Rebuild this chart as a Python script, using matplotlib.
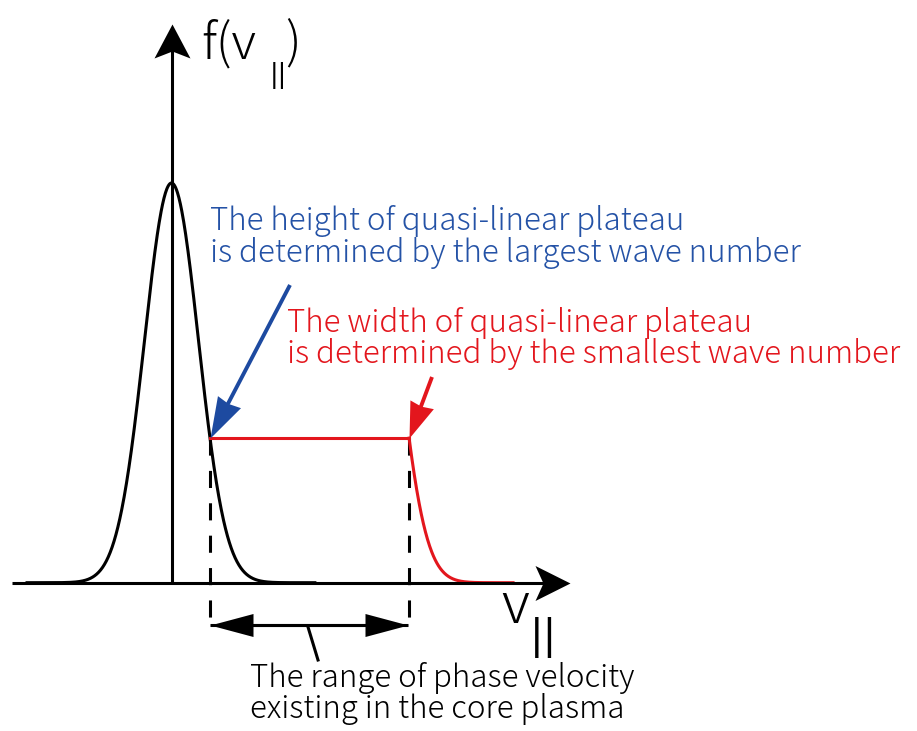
import numpy as np
import matplotlib
matplotlib.use("Agg")
import matplotlib.pyplot as plt
from matplotlib.path import Path
from matplotlib.markers import MarkerStyle
from matplotlib.transforms import Affine2D

plt.rcParams['font.family'] = ['Noto Sans CJK JP', 'DejaVu Sans']

# Maxwellian core and quasi-linear plateau (velocity in thermal units, f normalised to peak)
v_core = np.linspace(-5.35, 5.31, 600)
f_core = np.exp(-v_core**2 / 2)

plateau_edges = [1.426, 8.80]          # resonant phase-velocity range
plateau_height = float(np.exp(-plateau_edges[0]**2 / 2))
v_plateau = np.array(plateau_edges)
f_plateau = np.array([plateau_height, plateau_height])

shift = plateau_edges[1] - plateau_edges[0]
v_tail = np.linspace(plateau_edges[1], 12.65, 300)
f_tail = np.exp(-(v_tail - shift)**2 / 2)

blue_lines = ["The height of quasi-linear plateau",
              "is determined by the largest wave number"]
red_lines = ["The width of quasi-linear plateau",
             "is determined by the smallest wave number"]
black_lines = ["The range of phase velocity",
               "existing in the core plasma"]

BLUE = '#1d4aa0'
RED = '#e3161d'
BLUE_TXT = '#2452a6'

W, H = 917, 731
fig = plt.figure(figsize=(W / 100, H / 100), dpi=100)
ax = fig.add_axes([0, 0, 1, 1])
X0, SX, Y0, SY = 171.5, 27.0, 582.7, 399.7
ax.set_xlim(-X0 / SX, (W - X0) / SX)
ax.set_ylim((Y0 - H) / SY, Y0 / SY)
ax.axis('off')


def at(xp, yp):
    """Layout position given in pixels from the top-left corner -> data coords."""
    return ((xp - X0) / SX, (Y0 - yp) / SY)


def head(tip, frm, length, half, notch, color, z=6):
    """Filled arrow head (sizes in pixels) at data point `tip`, pointing away from `frm`."""
    tx, ty = ax.transData.transform(tip)
    fx, fy = ax.transData.transform(frm)
    ang = np.degrees(np.arctan2(ty - fy, tx - fx))
    verts = [(0, 0), (-length, half), (-length + notch, 0), (-length, -half), (0, 0)]
    codes = [Path.MOVETO, Path.LINETO, Path.LINETO, Path.LINETO, Path.CLOSEPOLY]
    ext = max(length, half)
    m = MarkerStyle(Path(verts, codes), transform=Affine2D().rotate_deg(ang))
    ax.plot([tip[0]], [tip[1]], marker=m, markersize=2 * ext * 0.72,
            color=color, markeredgewidth=0, linestyle='none', zorder=z)


def shaft(p0, p1, back, color, lw, z=5):
    """Straight line from p0 towards p1, stopping `back` pixels short of p1."""
    a = ax.transData.transform(p0)
    b = ax.transData.transform(p1)
    d = b - a
    b2 = b - d / np.hypot(*d) * back
    q = ax.transData.inverted().transform(np.vstack([a, b2]))
    ax.plot(q[:, 0], q[:, 1], color=color, lw=lw, solid_capstyle='butt', zorder=z)


# coordinate axes
origin = (0.0, 0.0)
x_tip, x_start = at(570, Y0), at(12, Y0)
y_tip = at(X0, 24)
shaft(x_start, x_tip, 20, 'black', 2.2)
head(x_tip, x_start, 35, 17.5, 8, 'black')
shaft(origin, y_tip, 20, 'black', 2.2)
head(y_tip, origin, 34, 18, 7, 'black')

# curves
ax.plot(v_core, f_core, color='black', lw=2.2, zorder=4)
ax.plot(v_plateau, f_plateau, color=RED, lw=2.2, zorder=4)
ax.plot(v_tail, f_tail, color=RED, lw=2.2, zorder=4)

# dashed drop lines to the phase-velocity range
y_bot = (Y0 - 622) / SY
for v in plateau_edges:
    ax.plot([v, v], [plateau_height, y_bot], color='black', lw=2.2,
            dashes=(5.6, 5.0), zorder=3)

# phase-velocity range double arrow and its leader
left, right = at(210, 625), at(408, 625)
shaft(left, right, 20, 'black', 2.2)
shaft(right, left, 20, 'black', 2.2)
head(right, left, 43, 11.5, 0, 'black')
head(left, right, 43, 11.5, 0, 'black')
ax.plot(*zip(at(308, 627), at(318, 660)), color='black', lw=2.2)

# pointer arrows onto the plateau ends
p_start = (plateau_edges[0], plateau_height)
p_end = (plateau_edges[1], plateau_height)
blue_from, red_from = at(290, 285), at(432, 377)
shaft(blue_from, p_start, 20, BLUE, 2.8)
head(p_start, blue_from, 41, 13, 2, BLUE)
shaft(red_from, p_end, 18, RED, 2.8)
head(p_end, red_from, 36, 12.5, 2, RED)

txt = dict(fontsize=22.5, weight='light', va='baseline', ha='left')
for (xp, yp), s in zip([(210, 230), (210, 262)], blue_lines):
    ax.text(*at(xp, yp), s, color=BLUE_TXT, **txt)
for (xp, yp), s in zip([(287, 332), (287, 363)], red_lines):
    ax.text(*at(xp, yp), s, color=RED, **txt)
for (xp, yp), s in zip([(250, 687), (250, 718)], black_lines):
    ax.text(*at(xp, yp), s, color='black', **txt)

# axis labels
lab = dict(weight='light', va='baseline', ha='left')
ax.text(*at(201, 58), 'f(v', fontsize=36, **lab)
ax.text(*at(269.5, 82), '||', fontsize=18.5, family='DejaVu Sans', va='baseline', ha='left')
ax.text(*at(285, 58), ')', fontsize=36, **lab)
ax.text(*at(501, 623), 'v', fontsize=41, **lab)
ax.text(*at(529.5, 648), '||', fontsize=29, family='DejaVu Sans', va='baseline', ha='left')

fig.savefig('out.png', dpi=100)
